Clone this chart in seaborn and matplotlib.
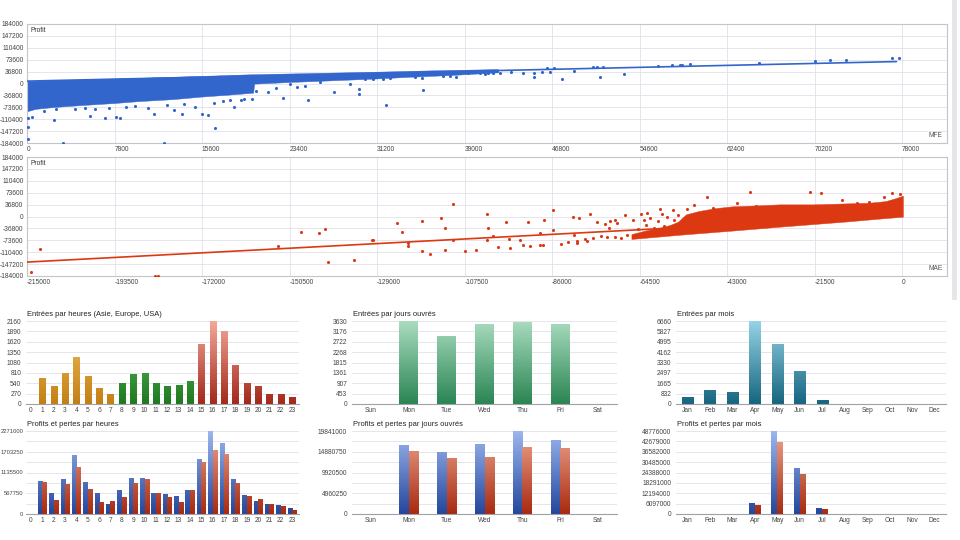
import numpy as np
import pandas as pd
import matplotlib
matplotlib.use("Agg")
import matplotlib.pyplot as plt
from matplotlib.colors import LinearSegmentedColormap
from matplotlib.patches import Rectangle
import seaborn as sns

# ---------------- data ----------------
mfe_ticks = [0, 7800, 15600, 23400, 31200, 39000, 46800, 54600, 62400, 70200, 78000]
mae_ticks = [-215000, -193500, -172000, -150500, -129000, -107500, -86000, -64500, -43000, -21500, 0]
profit_ticks = [-184000, -147200, -110400, -73600, -36800, 0, 36800, 73600, 110400, 147200, 184000]

# MFE vs Profit : isolated points
mfe_pts_x = [120, 475, 120, 120, 3240, 12200, 5620, 6950, 7940, 8300, 2440, 16800, 11330, 15580,
             16150, 13800, 13100, 18460, 18100, 19050, 10600, 12100, 13800, 14500,
             20040, 20420, 21520, 22200, 22800, 23450, 24050, 24790, 25090, 26130, 27400, 28800,
             29600, 29600, 30140, 30880, 31710, 32010, 32370, 34600, 35340, 35200, 37070, 37720,
             38250, 39350, 40690, 41500, 41880,
             1500, 2600, 4300, 5200, 6100, 7300, 8800, 9600, 10800, 12500, 14000, 15000, 16700,
             17500, 19300,
             40840, 45150, 45210, 46340, 47000, 47680, 48720, 50450, 50800, 51100, 51340, 53170,
             56200, 57490, 58170, 58400, 59120, 65210, 70270, 71600, 73000, 77100, 77700,
             40400, 41100, 42200, 43100, 44200, 45900, 46600]
mfe_pts_y = [-108000, -105000, -134000, -171000, -183000, -183000, -101000, -106000, -104000,
             -106000, -113000, -139000, -95000, -95000, -97000, -93000, -83000, -72000, -52000,
             -52000, -2000, 0, -2000, 0,
             -49000, -24000, -25000, -15000, -46000, 0, -12000, -8000, -51000, 4000, -25000, 0,
             -17000, -34000, 14000, 13000, 14000, -65000, 16000, 21000, -20000, 16000, 23000, 23000,
             21000, 34000, 37000, 33000, 40000,
             -84000, -80000, -78000, -76000, -80000, -75000, -73000, -70000, -77000, -68000,
             -63000, -72000, -60000, -55000, -48000,
             29500, 31700, 19000, 47000, 47000, 13000, 39000, 50000, 52000, 20000, 52000, 28600,
             54000, 58000, 58000, 58000, 59700, 62700, 70000, 72000, 73000, 78000, 78000,
             33000, 34000, 33500, 35000, 34000, 35000, 35000]
# MFE dense cloud outline
mfe_band_top_x = [0, 5000, 10000, 15600, 20000, 25000, 31200, 36000, 42000]
mfe_band_top_y = [6000, 11000, 16000, 22000, 27000, 30500, 35000, 39000, 43000]
mfe_band_bot_x = [42000, 38000, 34000, 31200, 27000, 23400, 20300, 20200, 18000, 15600, 13000,
                  10000, 7800, 5000, 2500, 800, 0]
mfe_band_bot_y = [33000, 25000, 19000, 14000, 8000, 3000, -2000, -30000, -36000, -42000, -50000,
                  -56000, -62000, -68000, -74000, -80000, -88000]
mfe_fit_x = [0, 77500]
mfe_fit_y = [7400, 67800]

# MAE vs Profit : isolated points
mae_pts_x = [-214000, -211900, -183600, -182800, -153300, -147700, -143300, -141800, -141000,
             -134600, -130300, -130000, -124000, -123000, -121300, -121300, -118000, -117900,
             -116000, -113400, -112200, -112200, -110300, -110300, -107400, -104600,
             -101900, -101700, -102100, -100600, -99200, -97300, -96700, -96300, -93900, -93100,
             -92000, -91400, -89000, -89000, -88300, -87900, -85700, -85700, -83700, -80800,
             -80700, -80000, -79400, -76700, -77500, -75000, -73100, -71800, -70600, -68200,
             -67600, -66100, -64100, -63500, -62700, -59500, -57900, -56300, -52900, -51200,
             -47900, -46500, -44000, -40600, -37500, -35800, -22600, -20000, -14700, -11100,
             -8200, -4400, -2400, -600,
             -63000, -61000, -60000, -58500, -57000, -56000, -55000, -54000, -53000, -65000,
             -62000, -59000, -70000, -72000, -74000, -76000, -78000, -80000, -82000, -72500,
             -70500, -69000]
mae_pts_y = [-172000, -101000, -183000, -183000, -91000, -48000, -50000, -38000, -141000,
             -134000, -72000, -72000, -21000, -47000, -83000, -91000, -13000, -108000,
             -116000, -5000, -35000, -103000, 39000, -74000, -107000, -104000,
             8000, -36000, -74000, -60000, -93000, -17000, -70000, -96000, -74000, -89000,
             -17000, -90000, -52000, -87000, -87000, -12000, 21000, -41000, -84000, 0,
             -57000, -81000, -5000, 7000, -77000, -16000, -23000, -13000, -10000, 6000,
             -57000, -10000, 7000, -10000, 12000, 23000, 0, 20000, 23000, 37000,
             59000, 26000, 16000, 41000, 77000, 31000, 77000, 72000, 52000, 41000,
             45000, 59000, 72000, 69000,
             -25000, -35000, -15000, -28000, -40000, -12000, 5000, -20000, -5000, -40000,
             -5000, 8000, -20000, -35000, -60000, -66000, -70000, -75000, -79000, -62000,
             -64000, -66000]
mae_band_top_x = [-66400, -63000, -60000, -57000, -55000, -53000, -50000, -46000, -41500, -35000,
                  -30000, -21800, -13600, -8000, -4000, -1500, 300]
mae_band_top_y = [-56000, -45000, -38000, -28000, -18000, 5000, 15000, 24000, 30000, 33000,
                  36000, 36000, 39000, 41000, 46000, 55000, 63000]
mae_band_bot_x = [300, -5400, -13600, -21800, -30000, -41500, -54600, -66400]
mae_band_bot_y = [-2000, -8000, -17000, -25000, -33000, -45000, -58000, -71000]
mae_fit_x = [-215000, 0]
mae_fit_y = [-141000, 2000]

hours = ['0', '1', '2', '3', '4', '5', '6', '7', '8', '9', '10', '11', '12', '13', '14', '15',
         '16', '17', '18', '19', '20', '21', '22', '23']
hour_session = ['Asie', 'Asie', 'Asie', 'Asie', 'Asie', 'Asie', 'Asie', 'Asie',
                'Europe', 'Europe', 'Europe', 'Europe', 'Europe', 'Europe', 'Europe',
                'USA', 'USA', 'USA', 'USA', 'USA', 'USA', 'USA', 'USA', 'USA']
hour_entries = [0, 680, 460, 800, 1230, 740, 425, 260, 555, 790, 805, 545, 475, 485, 590, 1570,
                2160, 1905, 1005, 555, 460, 270, 250, 175]
hour_profit = [0, 903000, 584000, 958000, 1614000, 866000, 565000, 264000, 647000, 994000,
               994000, 584000, 556000, 483000, 657000, 1496000, 2271000, 1934000, 948000,
               511000, 347000, 283000, 237000, 173000]
hour_loss = [0, 885000, 392000, 830000, 1295000, 675000, 337000, 365000, 474000, 839000,
             967000, 565000, 474000, 328000, 666000, 1423000, 1751000, 1642000, 857000,
             483000, 410000, 264000, 210000, 109000]
hour_entry_ticks = [0, 270, 540, 810, 1080, 1350, 1620, 1890, 2160]
hour_pl_ticks = [0, 283875, 567750, 851625, 1135500, 1419375, 1703250, 1987125, 2271000]
hour_pl_labels = ['0', '', '567750', '', '1135500', '', '1703250', '', '2271000']

days = ['Sun', 'Mon', 'Tue', 'Wed', 'Thu', 'Fri', 'Sat']
day_entries = [0, 3630, 2990, 3485, 3600, 3500, 0]
day_profit = [0, 16494000, 14900000, 16730000, 19841000, 17690000, 0]
day_loss = [0, 15140000, 13390000, 13550000, 15940000, 15780000, 0]
day_entry_ticks = [0, 453.75, 907.5, 1361.25, 1815, 2268.75, 2722.5, 3176.25, 3630]
day_entry_labels = ['0', '453', '907', '1361', '1815', '2268', '2722', '3176', '3630']
day_pl_ticks = [0, 2480125, 4960250, 7440375, 9920500, 12400625, 14880750, 17360875, 19841000]
day_pl_labels = ['0', '', '4960250', '', '9920500', '', '14880750', '', '19841000']

months = ['Jan', 'Feb', 'Mar', 'Apr', 'May', 'Jun', 'Jul', 'Aug', 'Sep', 'Oct', 'Nov', 'Dec']
month_entries = [588, 1097, 990, 6660, 4815, 2648, 348, 0, 0, 0, 0, 0]
month_profit = [0, 0, 0, 6268000, 48776000, 26840000, 3526000, 0, 0, 0, 0, 0]
month_loss = [0, 0, 0, 5485000, 42120000, 23310000, 2938000, 0, 0, 0, 0, 0]
month_entry_ticks = [0, 832.5, 1665, 2497.5, 3330, 4162.5, 4995, 5827.5, 6660]
month_entry_labels = ['0', '832', '1665', '2497', '3330', '4162', '4995', '5827', '6660']
month_pl_ticks = [0, 6097000, 12194000, 18291000, 24388000, 30485000, 36582000, 42679000, 48776000]
month_pl_labels = ['0', '6097000', '12194000', '18291000', '24388000', '30485000', '36582000',
                   '42679000', '48776000']

titles = ['Entrées par heures (Asie, Europe, USA)', 'Entrées par jours ouvrés', 'Entrées par mois',
          'Profits et pertes par heures', 'Profits et pertes par jours ouvrés',
          'Profits et pertes par mois']

# ---------------- style ----------------
sns.set_theme(style='white')
plt.rcParams['font.family'] = ['Liberation Sans', 'DejaVu Sans']

BLUE = '#3366cc'
RED = '#dc3912'
GRID = '#e0e0e8'
FRAME = '#c4c4cc'
TXT = '#444444'
TS = 4.8

grad_cols = {
    'Asie': ('#c47f12', '#f4c566'),
    'Europe': ('#1f7a1f', '#6cc46c'),
    'USA': ('#a3281a', '#f4a898'),
    'day': ('#2a8553', '#a9dcbf'),
    'month': ('#16657f', '#96d3e6'),
    'profit': ('#24479c', '#9cb6ee'),
    'loss': ('#a82a10', '#eea690'),
}

fig = plt.figure(figsize=(9.6, 5.4), dpi=100)
W, H = 960.0, 540.0


def add_ax(l, r, t, b):
    return fig.add_axes([l / W, 1 - b / H, (r - l) / W, (b - t) / H])


def scatter_panel(ax, band_tx, band_ty, band_bx, band_by, px, py, fx, fy, color, xticks, xlim,
                  xlabel):
    ax.fill(list(band_tx) + list(band_bx), list(band_ty) + list(band_by), color=color, lw=0.3,
            ec=color, zorder=2)
    sns.scatterplot(x=px, y=py, ax=ax, color=color, s=5, linewidth=0, zorder=3)
    sns.lineplot(x=fx, y=fy, ax=ax, color=color, lw=1.2, zorder=4)
    ax.set_xlim(*xlim)
    ax.set_ylim(-184000, 184000)
    ax.set_xticks(xticks)
    ax.set_xticklabels([str(v) for v in xticks], ha='left')
    ax.set_yticks(profit_ticks)
    ax.set_yticklabels([str(v) for v in profit_ticks])
    ax.tick_params(axis='both', length=0, labelsize=TS, labelcolor=TXT, pad=2.5)
    ax.grid(True, color=GRID, lw=0.6)
    ax.set_axisbelow(True)
    for s in ax.spines.values():
        s.set_color(FRAME)
        s.set_linewidth(0.8)
    ax.set_xlabel('')
    ax.set_ylabel('')
    ax.text(0.004, 0.975, 'Profit', transform=ax.transAxes, ha='left', va='top', fontsize=TS,
            color='#333333')
    ax.text(0.995, 0.035, xlabel, transform=ax.transAxes, ha='right', va='bottom', fontsize=TS,
            color='#555555')


ax1 = add_ax(27, 947, 24, 143)
scatter_panel(ax1, mfe_band_top_x, mfe_band_top_y, mfe_band_bot_x, mfe_band_bot_y,
              mfe_pts_x, mfe_pts_y, mfe_fit_x, mfe_fit_y, BLUE, mfe_ticks, (0, 82000), 'MFE')
ax2 = add_ax(27, 947, 157, 276)
scatter_panel(ax2, mae_band_top_x, mae_band_top_y, mae_band_bot_x, mae_band_bot_y,
              mae_pts_x, mae_pts_y, mae_fit_x, mae_fit_y, RED, mae_ticks, (-215000, 11000), 'MAE')


def apply_gradient(ax, ymax, key_for_patch):
    grad = np.linspace(0, 1, 128).reshape(-1, 1)
    xl, yl = ax.get_xlim(), ax.get_ylim()
    for p in list(ax.patches):
        h = p.get_height()
        if not np.isfinite(h) or h <= 0:
            continue
        dark, light = grad_cols[key_for_patch(p)]
        cmap = LinearSegmentedColormap.from_list('g', [dark, light])
        x0, w = p.get_x(), p.get_width()
        p.set_facecolor(dark)
        p.set_edgecolor('none')
        im = ax.imshow(grad, extent=[x0, x0 + w, 0, ymax], origin='lower', aspect='auto',
                       cmap=cmap, vmin=0, vmax=1, zorder=p.get_zorder() + 0.01,
                       interpolation='bilinear')
        im.set_clip_path(p)
    ax.set_xlim(xl)
    ax.set_ylim(yl)


def style_bar_ax(ax, yticks, ylabels, xlim, title, ncat, boundary_ticks, ysize=TS, ypad=1.5,
                 ylen=2):
    ax.set_ylim(0, yticks[-1])
    ax.set_xlim(*xlim)
    ax.set_yticks(yticks)
    ax.set_yticklabels(ylabels)
    ax.yaxis.grid(True, color=GRID, lw=0.6)
    ax.xaxis.grid(False)
    ax.set_axisbelow(True)
    for k in ['top', 'right', 'left']:
        ax.spines[k].set_visible(False)
    ax.spines['bottom'].set_color('#a0a0a8')
    ax.spines['bottom'].set_linewidth(0.8)
    ax.tick_params(axis='y', length=ylen, color='#b0b0b8', width=0.6, labelsize=ysize,
                   labelcolor=TXT, pad=ypad)
    ax.tick_params(axis='x', length=0, labelsize=TS, labelcolor=TXT, pad=2.5)
    if boundary_ticks:
        ax.set_xticks([i - 0.5 for i in range(ncat + 1)], minor=True)
        ax.tick_params(axis='x', which='minor', length=2.5, color='#b0b0b8', width=0.6)
    ax.set_xlabel('')
    ax.set_ylabel('')
    ax.text(0.003, 1.035, title, transform=ax.transAxes, ha='left', va='bottom', fontsize=5.4,
            color='#222222')


def center_idx(p):
    return int(round(p.get_x() + p.get_width() / 2))


def pl_key(p):
    c = p.get_x() + p.get_width() / 2
    return 'profit' if c < round(c) else 'loss'


def pl_frame(cats, prof, loss):
    return pd.DataFrame({'cat': list(cats) * 2,
                         'kind': ['Profits'] * len(cats) + ['Pertes'] * len(cats),
                         'val': list(prof) + list(loss)})


# Entries per hour
a = add_ax(26, 299, 321, 404)
sns.barplot(x=hours, y=hour_entries, order=hours, color=RED, width=0.53, saturation=1, ax=a)
style_bar_ax(a, hour_entry_ticks, [str(v) for v in hour_entry_ticks], (-0.44, 23.6), titles[0],
             24, False)
apply_gradient(a, hour_entry_ticks[-1], lambda p: hour_session[center_idx(p)])

# Profit / loss per hour
a = add_ax(26, 299, 431, 514)
sns.barplot(data=pl_frame(hours, hour_profit, hour_loss), x='cat', y='val', hue='kind',
            order=hours, hue_order=['Profits', 'Pertes'], palette=[BLUE, RED], width=0.8,
            saturation=1, legend=False, ax=a)
style_bar_ax(a, hour_pl_ticks, hour_pl_labels, (-0.44, 23.6), titles[3], 24, False,
             ysize=4.2, ypad=0.6, ylen=1.2)
apply_gradient(a, hour_pl_ticks[-1], pl_key)

# Entries per weekday
a = add_ax(352, 617, 321, 404)
sns.barplot(x=days, y=day_entries, order=days, color='#2e8b57', width=0.5, saturation=1, ax=a)
style_bar_ax(a, day_entry_ticks, day_entry_labels, (-0.5, 6.5), titles[1], 7, True)
apply_gradient(a, day_entry_ticks[-1], lambda p: 'day')

# Profit / loss per weekday
a = add_ax(352, 617, 431, 514)
sns.barplot(data=pl_frame(days, day_profit, day_loss), x='cat', y='val', hue='kind',
            order=days, hue_order=['Profits', 'Pertes'], palette=[BLUE, RED], width=0.5,
            saturation=1, legend=False, ax=a)
style_bar_ax(a, day_pl_ticks, day_pl_labels, (-0.5, 6.5), titles[4], 7, True)
apply_gradient(a, day_pl_ticks[-1], pl_key)

# Entries per month
a = add_ax(676, 946, 321, 404)
sns.barplot(x=months, y=month_entries, order=months, color='#1b6f8d', width=0.49, saturation=1,
            ax=a)
style_bar_ax(a, month_entry_ticks, month_entry_labels, (-0.5, 11.5), titles[2], 12, True)
apply_gradient(a, month_entry_ticks[-1], lambda p: 'month')

# Profit / loss per month
a = add_ax(676, 946, 431, 514)
sns.barplot(data=pl_frame(months, month_profit, month_loss), x='cat', y='val', hue='kind',
            order=months, hue_order=['Profits', 'Pertes'], palette=[BLUE, RED], width=0.52,
            saturation=1, legend=False, ax=a)
style_bar_ax(a, month_pl_ticks, month_pl_labels, (-0.5, 11.5), titles[5], 12, True)
apply_gradient(a, month_pl_ticks[-1], pl_key)

# decorative separator strip at right of the scatter area
fig.add_artist(Rectangle((952 / W, 1 - 300 / H), 5 / W, 300 / H, transform=fig.transFigure,
                         facecolor='#e6e6ea', edgecolor='none'))

fig.savefig('out.png', dpi=100, facecolor='white')
